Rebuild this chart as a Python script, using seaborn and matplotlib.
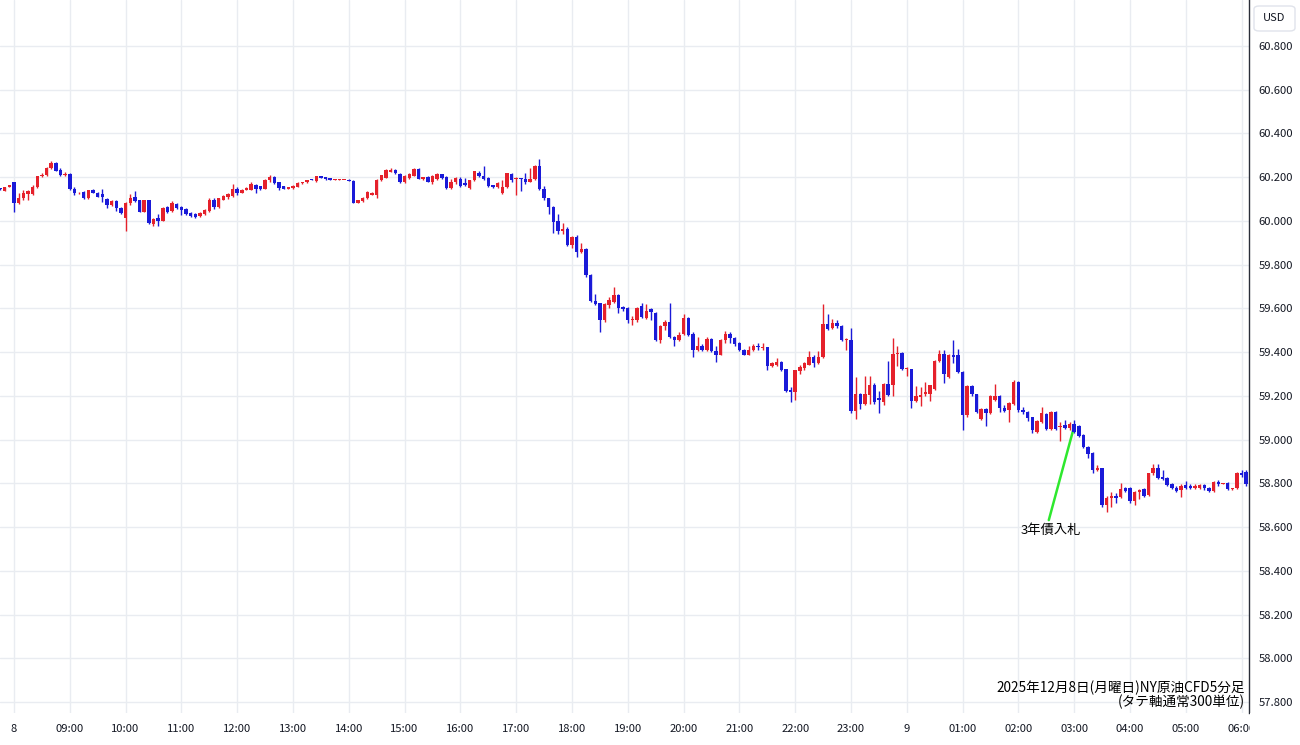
import numpy as np
import pandas as pd
import matplotlib
matplotlib.use("Agg")
import matplotlib.pyplot as plt
import matplotlib.patches as mpatches
import seaborn as sns

# 5-minute bars, NY crude CFD, 2025-12-08 (one row per hour)
opens = [
    60.148, 60.139, 60.156,
    60.177, 60.083, 60.107, 60.121, 60.125, 60.153, 60.205, 60.208, 60.242, 60.265, 60.232, 60.211,
    60.215, 60.147, 60.126, 60.132, 60.104, 60.143, 60.129, 60.121, 60.100, 60.073, 60.090, 60.060,
    60.015, 60.080, 60.110, 60.094, 60.042, 60.094, 59.987, 60.013, 60.000, 60.062, 60.045, 60.076,
    60.064, 60.056, 60.036, 60.030, 60.024, 60.030, 60.045, 60.098, 60.062, 60.097, 60.110, 60.112,
    60.148, 60.130, 60.143, 60.142, 60.165, 60.158, 60.148, 60.185, 60.200, 60.177, 60.158, 60.148,
    60.150, 60.155, 60.172, 60.176, 60.190, 60.184, 60.204, 60.200, 60.195, 60.187, 60.188, 60.187,
    60.188, 60.183, 60.084, 60.089, 60.105, 60.120, 60.118, 60.186, 60.198, 60.226, 60.233, 60.216,
    60.180, 60.195, 60.207, 60.236, 60.190, 60.200, 60.180, 60.190, 60.213, 60.200, 60.150, 60.176,
    60.194, 60.175, 60.152, 60.185, 60.220, 60.205, 60.198, 60.163, 60.153, 60.128, 60.153, 60.214,
    60.190, 60.196, 60.190, 60.178, 60.190, 60.250, 60.145, 60.104, 60.065, 60.000, 59.955, 59.965,
    59.890, 59.927, 59.860, 59.872, 59.755, 59.636, 59.623, 59.545, 59.617, 59.630, 59.660, 59.605,
    59.600, 59.545, 59.547, 59.613, 59.558, 59.595, 59.580, 59.455, 59.520, 59.540, 59.470, 59.455,
    59.482, 59.557, 59.485, 59.410, 59.430, 59.408, 59.462, 59.405, 59.388, 59.455, 59.485, 59.465,
    59.440, 59.410, 59.388, 59.410, 59.430, 59.420, 59.422, 59.335, 59.340, 59.356, 59.322, 59.226,
    59.218, 59.315, 59.328, 59.343, 59.380, 59.350, 59.380, 59.530, 59.510, 59.532, 59.520, 59.455,
    59.455, 59.130, 59.210, 59.165, 59.205, 59.248, 59.190, 59.172, 59.255, 59.250, 59.390, 59.397,
    59.322, 59.322, 59.175, 59.195, 59.207, 59.210, 59.230, 59.360, 59.390, 59.285, 59.388, 59.386,
    59.310, 59.112, 59.243, 59.207, 59.095, 59.140, 59.120, 59.180, 59.200, 59.145, 59.135, 59.165,
    59.264, 59.137, 59.128, 59.102, 59.035, 59.080, 59.118, 59.050, 59.125, 59.056, 59.065, 59.055,
    59.070, 59.060, 59.020, 58.965, 58.940, 58.860, 58.868, 58.700, 58.733, 58.742, 58.738, 58.778,
    58.780, 58.717, 58.760, 58.775, 58.745, 58.846, 58.868, 58.830, 58.825, 58.795, 58.780, 58.768,
    58.792, 58.788, 58.778, 58.780, 58.792, 58.780, 58.764, 58.805, 58.797, 58.800, 58.772, 58.778,
    58.846, 58.850,
]
highs = [
    60.150, 60.156, 60.166,
    60.180, 60.128, 60.140, 60.140, 60.165, 60.207, 60.217, 60.245, 60.275, 60.270, 60.240, 60.225,
    60.220, 60.155, 60.133, 60.135, 60.142, 60.147, 60.131, 60.144, 60.105, 60.095, 60.095, 60.065,
    60.085, 60.125, 60.136, 60.097, 60.097, 60.097, 60.015, 60.034, 60.063, 60.070, 60.090, 60.080,
    60.070, 60.060, 60.040, 60.036, 60.042, 60.055, 60.106, 60.106, 60.107, 60.118, 60.127, 60.167,
    60.154, 60.146, 60.153, 60.176, 60.170, 60.162, 60.190, 60.210, 60.205, 60.180, 60.160, 60.156,
    60.163, 60.178, 60.180, 60.188, 60.192, 60.207, 60.207, 60.202, 60.197, 60.190, 60.190, 60.189,
    60.190, 60.185, 60.098, 60.108, 60.135, 60.134, 60.190, 60.212, 60.236, 60.240, 60.236, 60.220,
    60.210, 60.218, 60.240, 60.240, 60.203, 60.205, 60.210, 60.220, 60.216, 60.205, 60.190, 60.200,
    60.200, 60.195, 60.188, 60.230, 60.230, 60.250, 60.200, 60.166, 60.180, 60.186, 60.220, 60.217,
    60.200, 60.198, 60.220, 60.240, 60.255, 60.283, 60.160, 60.106, 60.067, 60.030, 59.990, 59.970,
    59.930, 59.935, 59.897, 59.875, 59.757, 59.665, 59.625, 59.625, 59.650, 59.700, 59.665, 59.610,
    59.605, 59.565, 59.605, 59.625, 59.620, 59.600, 59.585, 59.525, 59.545, 59.626, 59.475, 59.490,
    59.575, 59.560, 59.490, 59.470, 59.435, 59.470, 59.465, 59.430, 59.460, 59.495, 59.490, 59.470,
    59.445, 59.415, 59.430, 59.435, 59.440, 59.440, 59.425, 59.355, 59.372, 59.360, 59.325, 59.240,
    59.320, 59.340, 59.355, 59.403, 59.385, 59.403, 59.620, 59.573, 59.550, 59.545, 59.525, 59.465,
    59.512, 59.288, 59.215, 59.290, 59.290, 59.260, 59.220, 59.260, 59.360, 59.463, 59.430, 59.400,
    59.330, 59.325, 59.245, 59.240, 59.265, 59.250, 59.365, 59.410, 59.412, 59.390, 59.455, 59.413,
    59.315, 59.250, 59.248, 59.210, 59.145, 59.145, 59.205, 59.255, 59.205, 59.160, 59.170, 59.272,
    59.268, 59.150, 59.130, 59.105, 59.090, 59.150, 59.120, 59.132, 59.130, 59.080, 59.090, 59.080,
    59.090, 59.065, 59.025, 58.970, 58.945, 58.885, 58.870, 58.740, 58.760, 58.755, 58.800, 58.785,
    58.785, 58.765, 58.775, 58.780, 58.848, 58.888, 58.887, 58.860, 58.828, 58.800, 58.790, 58.795,
    58.810, 58.795, 58.795, 58.797, 58.798, 58.785, 58.810, 58.815, 58.802, 58.805, 58.780, 58.850,
    58.862, 58.860,
]
lows = [
    60.143, 60.137, 60.154,
    60.040, 60.076, 60.095, 60.095, 60.118, 60.150, 60.203, 60.205, 60.238, 60.228, 60.205, 60.205,
    60.143, 60.120, 60.122, 60.100, 60.100, 60.126, 60.108, 60.087, 60.057, 60.070, 60.047, 60.030,
    59.955, 60.075, 60.087, 60.040, 60.040, 59.985, 59.977, 59.978, 59.998, 60.038, 60.040, 60.055,
    60.026, 60.028, 60.020, 60.012, 60.020, 60.028, 60.040, 60.055, 60.058, 60.094, 60.100, 60.108,
    60.120, 60.128, 60.140, 60.140, 60.130, 60.140, 60.145, 60.180, 60.170, 60.140, 60.145, 60.146,
    60.148, 60.153, 60.170, 60.174, 60.185, 60.180, 60.196, 60.188, 60.185, 60.186, 60.187, 60.186,
    60.182, 60.080, 60.082, 60.085, 60.100, 60.118, 60.103, 60.183, 60.195, 60.224, 60.215, 60.175,
    60.172, 60.192, 60.204, 60.190, 60.188, 60.176, 60.170, 60.185, 60.194, 60.146, 60.145, 60.168,
    60.155, 60.160, 60.148, 60.182, 60.200, 60.185, 60.155, 60.152, 60.150, 60.125, 60.150, 60.180,
    60.120, 60.138, 60.170, 60.176, 60.186, 60.140, 60.097, 60.034, 59.946, 59.942, 59.942, 59.885,
    59.878, 59.837, 59.855, 59.745, 59.630, 59.615, 59.494, 59.540, 59.600, 59.625, 59.580, 59.590,
    59.535, 59.526, 59.540, 59.555, 59.550, 59.545, 59.450, 59.440, 59.500, 59.465, 59.430, 59.450,
    59.478, 59.475, 59.380, 59.405, 59.405, 59.405, 59.400, 59.356, 59.385, 59.440, 59.440, 59.430,
    59.405, 59.385, 59.385, 59.405, 59.410, 59.410, 59.318, 59.330, 59.335, 59.315, 59.218, 59.170,
    59.180, 59.300, 59.320, 59.340, 59.330, 59.345, 59.375, 59.500, 59.505, 59.510, 59.450, 59.410,
    59.120, 59.094, 59.142, 59.160, 59.165, 59.165, 59.120, 59.160, 59.200, 59.200, 59.335, 59.320,
    59.290, 59.143, 59.170, 59.155, 59.200, 59.175, 59.225, 59.355, 59.257, 59.280, 59.350, 59.305,
    59.045, 59.105, 59.200, 59.120, 59.090, 59.064, 59.115, 59.175, 59.128, 59.125, 59.080, 59.160,
    59.125, 59.115, 59.085, 59.030, 59.030, 59.075, 59.045, 59.045, 59.045, 58.995, 59.050, 59.045,
    59.030, 59.010, 58.960, 58.915, 58.849, 58.855, 58.690, 58.670, 58.690, 58.710, 58.735, 58.760,
    58.710, 58.700, 58.730, 58.738, 58.740, 58.840, 58.820, 58.815, 58.790, 58.775, 58.760, 58.738,
    58.775, 58.772, 58.775, 58.775, 58.768, 58.760, 58.760, 58.790, 58.795, 58.770, 58.768, 58.775,
    58.830, 58.790,
]
closes = [
    60.145, 60.154, 60.163,
    60.083, 60.107, 60.128, 60.136, 60.153, 60.205, 60.212, 60.243, 60.267, 60.230, 60.210, 60.214,
    60.145, 60.126, 60.130, 60.104, 60.140, 60.129, 60.110, 60.110, 60.072, 60.091, 60.057, 60.035,
    60.080, 60.105, 60.090, 60.042, 60.094, 59.990, 60.010, 60.000, 60.060, 60.043, 60.080, 60.058,
    60.050, 60.032, 60.024, 60.018, 60.038, 60.050, 60.095, 60.062, 60.103, 60.115, 60.124, 60.148,
    60.126, 60.143, 60.150, 60.170, 60.145, 60.146, 60.186, 60.201, 60.175, 60.150, 60.148, 60.153,
    60.160, 60.175, 60.178, 60.186, 60.186, 60.205, 60.198, 60.190, 60.187, 60.189, 60.189, 60.188,
    60.183, 60.083, 60.096, 60.104, 60.132, 60.130, 60.186, 60.209, 60.232, 60.235, 60.220, 60.178,
    60.205, 60.215, 60.236, 60.192, 60.200, 60.180, 60.205, 60.214, 60.196, 60.150, 60.178, 60.195,
    60.160, 60.165, 60.185, 60.227, 60.205, 60.190, 60.160, 60.156, 60.175, 60.156, 60.217, 60.186,
    60.196, 60.192, 60.178, 60.190, 60.250, 60.145, 60.104, 60.065, 59.997, 59.955, 59.965, 59.890,
    59.925, 59.860, 59.872, 59.753, 59.636, 59.620, 59.545, 59.620, 59.638, 59.660, 59.600, 59.595,
    59.545, 59.552, 59.600, 59.560, 59.590, 59.585, 59.455, 59.520, 59.540, 59.470, 59.455, 59.480,
    59.557, 59.480, 59.410, 59.428, 59.410, 59.462, 59.405, 59.388, 59.455, 59.485, 59.465, 59.435,
    59.410, 59.388, 59.410, 59.428, 59.425, 59.425, 59.335, 59.350, 59.356, 59.318, 59.222, 59.218,
    59.318, 59.334, 59.350, 59.380, 59.350, 59.378, 59.530, 59.508, 59.532, 59.520, 59.455, 59.460,
    59.130, 59.210, 59.165, 59.210, 59.248, 59.170, 59.180, 59.255, 59.206, 59.390, 59.397, 59.325,
    59.326, 59.175, 59.200, 59.205, 59.218, 59.248, 59.360, 59.390, 59.300, 59.385, 59.380, 59.310,
    59.112, 59.243, 59.207, 59.126, 59.140, 59.122, 59.200, 59.200, 59.145, 59.132, 59.168, 59.264,
    59.137, 59.128, 59.100, 59.045, 59.085, 59.120, 59.050, 59.127, 59.050, 59.064, 59.055, 59.070,
    59.035, 59.018, 58.965, 58.935, 58.860, 58.868, 58.700, 58.735, 58.740, 58.735, 58.775, 58.766,
    58.717, 58.762, 58.770, 58.742, 58.845, 58.868, 58.823, 58.820, 58.793, 58.778, 58.765, 58.790,
    58.780, 58.778, 58.790, 58.793, 58.778, 58.765, 58.806, 58.796, 58.800, 58.775, 58.778, 58.845,
    58.836, 58.795,
]

tick_bars = [3 + 12 * k for k in range(23)]
tick_labels = ["8", "09:00", "10:00", "11:00", "12:00", "13:00", "14:00", "15:00",
               "16:00", "17:00", "18:00", "19:00", "20:00", "21:00", "22:00", "23:00",
               "9", "01:00", "02:00", "03:00", "04:00", "05:00", "06:00"]
price_ticks = [57.8, 58.0, 58.2, 58.4, 58.6, 58.8, 59.0, 59.2, 59.4, 59.6, 59.8,
               60.0, 60.2, 60.4, 60.6, 60.8]

df = pd.DataFrame({"open": opens, "high": highs, "low": lows, "close": closes})
df["bar"] = np.arange(len(df))
df["up"] = df["close"] > df["open"]

sns.set_style("white")
plt.rcParams["font.family"] = ["Noto Sans CJK JP", "DejaVu Sans"]

RED = "#e5212b"
BLUE = "#1a1ad8"
GRID = "#e9ecf1"
TXT = "#131722"

fig = plt.figure(figsize=(13, 7.45), dpi=100)
ax = fig.add_axes([0, 32 / 745, 1249 / 1300, 713 / 745])

colors = np.where(df["up"], RED, BLUE)
body_lo = df[["open", "close"]].min(axis=1)
body_h = (df["close"] - df["open"]).abs().clip(lower=0.004)

ax.vlines(df["bar"], df["low"], df["high"], colors=colors, linewidth=1.0, zorder=3)
ax.bar(df["bar"], body_h, bottom=body_lo, width=0.74, color=colors, linewidth=0, zorder=4)

ax.set_xlim(-0.01, 268.6)
ax.set_ylim(57.7497, 61.0104)

ax.set_xticks(tick_bars)
ax.set_xticklabels(tick_labels)
ax.set_yticks(price_ticks)
ax.set_yticklabels([f"{p:.3f}" for p in price_ticks])
ax.yaxis.tick_right()
ax.tick_params(axis="both", length=0, labelsize=8.1, colors=TXT)
ax.tick_params(axis="x", pad=8)
ax.tick_params(axis="y", pad=7)
ax.grid(True, color=GRID, linewidth=1.0, zorder=0)

for side in ["top", "left", "bottom"]:
    ax.spines[side].set_visible(False)
ax.spines["right"].set_color("#2a2e39")
ax.spines["right"].set_linewidth(1.0)

# annotation: 3-year note auction
ax.annotate("3年債入札", xy=(231, 59.06), xytext=(226, 58.587),
            ha="center", va="center", fontsize=9.5, color="black",
            arrowprops=dict(arrowstyle="-", color="#2ee82e", lw=1.8,
                            shrinkA=0, shrinkB=0, relpos=(0.45, 1.0)))

fig.text(1245 / 1300, (745 - 688) / 745, "2025年12月8日(月曜日)NY原油CFD5分足",
         ha="right", va="center", fontsize=9.8, color="black")
fig.text(1245 / 1300, (745 - 702) / 745, "(タテ軸通常300単位)",
         ha="right", va="center", fontsize=9.8, color="black")

# right price-scale panel covers the cut off last time label
fig.patches.append(mpatches.Rectangle((1249.5 / 1300, 0), 50.5 / 1300, 32 / 745,
                                      transform=fig.transFigure, facecolor="white",
                                      edgecolor="none", zorder=5))
fig.patches.append(mpatches.FancyBboxPatch((1254 / 1300, (745 - 31) / 745), 41 / 1300, 25 / 745,
                                           boxstyle="round,pad=0,rounding_size=0.004",
                                           transform=fig.transFigure, facecolor="white",
                                           edgecolor="#e0e3eb", linewidth=1.0, zorder=6))
fig.text(1274.5 / 1300, (745 - 18) / 745, "USD", ha="center", va="center",
         fontsize=8, color=TXT, zorder=7)

fig.savefig("out.png", dpi=100)
